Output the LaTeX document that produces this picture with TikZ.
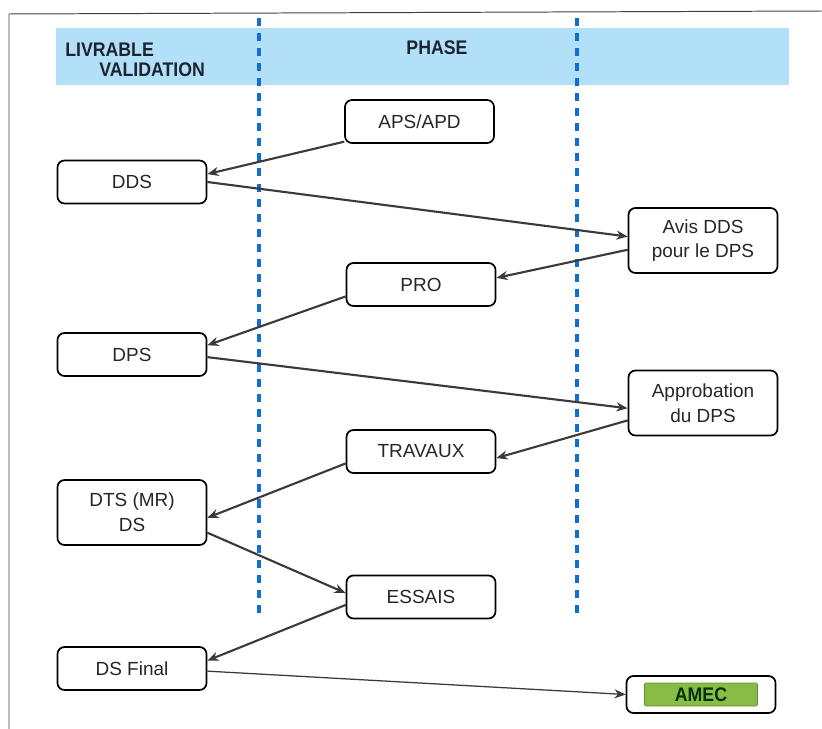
\documentclass[tikz,border=0pt]{standalone}
\usepackage{fontspec}
\setmainfont{Liberation Sans}
\newfontfamily\headfont[FakeStretch=0.9]{Liberation Sans}
\usetikzlibrary{arrows.meta}
\definecolor{bandblue}{RGB}{178,224,248}
\definecolor{lineblue}{RGB}{18,110,214}
\definecolor{arrowgray}{RGB}{58,58,58}
\definecolor{amecgreen}{RGB}{136,188,70}
\definecolor{amecedge}{RGB}{98,148,48}
\definecolor{inkblue}{RGB}{28,36,48}

\begin{document}
\begin{tikzpicture}[x=0.025cm, y=-0.025cm, >={Stealth[length=8pt,width=6.5pt]},
    box/.style={draw, line width=1.2pt, rounded corners=5pt, minimum width=3.725cm, minimum height=1.075cm, align=center, font=\fontsize{13.5}{17.5}\selectfont, text=black!85},
    tallbox/.style={box, minimum height=1.625cm},
    head/.style={font=\headfont\bfseries\fontsize{14}{16}\selectfont, text=inkblue, inner sep=0pt},
    amectag/.style={draw=amecedge, fill=amecgreen, line width=0.6pt, rounded corners=1pt, minimum width=2.825cm, minimum height=0.575cm, inner sep=0pt, font=\headfont\bfseries\fontsize{14}{16}\selectfont, text=black!80!green},
    link/.style={->, draw=arrowgray, line width=1.5pt},
    sep/.style={draw=lineblue, line width=3.5pt, dash pattern=on 5.7pt off 5pt}]
    \useasboundingbox (0,0) rectangle (822,729);

    % frame and header band
    \draw[line width=0.7pt, black!75] (9,729) -- (9,14) -- (822,11);
    \fill[bandblue] (56,28) rectangle (789,85);
    \node[head, anchor=west] (livrable) at (65,50) {LIVRABLE};
    \node[head, anchor=west] (validation) at (99,70) {VALIDATION};
    \node[head] (phase) at (437,48) {PHASE};

    % column separators
    \draw[sep] (259,18) -- (259,615);
    \draw[sep] (577,18) -- (577,615);

    \node[box] (aps) at (419.5,121.5) {APS/APD};
    \node[box] (dds) at (132,182) {DDS};
    \node[tallbox] (avis) at (703,240.5) {Avis DDS\\pour le DPS};
    \node[box] (pro) at (421,284.5) {PRO};
    \node[box] (dps) at (132,354.5) {DPS};
    \node[tallbox] (appro) at (703,403) {Approbation\\du DPS};
    \node[box] (travaux) at (421,451.5) {TRAVAUX};
    \node[tallbox] (dts) at (132,512.5) {DTS (MR)\\DS};
    \node[box] (essais) at (421,597) {ESSAIS};
    \node[box] (dsfinal) at (132,668.5) {DS Final};
    \node[box, minimum height=0.925cm] (amec) at (701,694.5) {};
    \node[amectag] (amecin) at (amec) {AMEC};

    \draw[link] (aps.195) -- (dds.6);
    \draw[link] (dds.east) -- (avis.177);
    \draw[link] (avis.187) -- (pro.5);
    \draw[link] (pro.189) -- (dps.7);
    \draw[link] (dps.-2) -- (appro.184);
    \draw[link] (appro.193) -- (travaux.-5);
    \draw[link] (travaux.189) -- (dts.-4);
    \draw[link] (dts.-15) -- (essais.177);
    \draw[link] (essais.186) -- (dsfinal.6);
    \draw[link, line width=0.9pt] (dsfinal.-2) -- (amec.west);
\end{tikzpicture}
\end{document}
